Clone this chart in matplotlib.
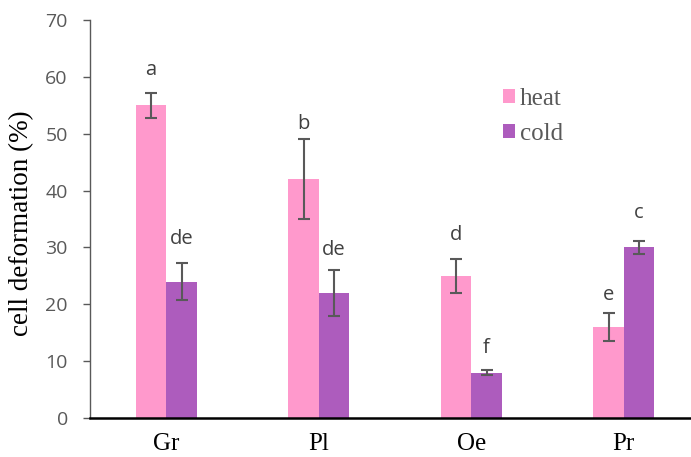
import matplotlib
matplotlib.use("Agg")
import matplotlib.pyplot as plt
import numpy as np

categories = ["Gr", "Pl", "Oe", "Pr"]
heat = [55, 42, 25, 16]
heat_err = [2.2, 7.0, 3.0, 2.5]
cold = [24, 22, 8, 30]
cold_err = [3.3, 4.0, 0.5, 1.2]
heat_letters = ["a", "b", "d", "e"]
cold_letters = ["de", "de", "f", "c"]
heat_letter_y = [60.3, 50.8, 31.3, 20.75]
cold_letter_y = [30.6, 28.7, 11.4, 35.2]
yticks = [0, 10, 20, 30, 40, 50, 60, 70]

W, H = 691, 457
fig = plt.figure(figsize=(W / 100, H / 100), dpi=100)
ax = fig.add_axes([90 / W, 39 / H, 610 / W, 398 / H])

x = np.arange(len(categories))
bw = 0.2
pink = "#FF99CC"
purple = "#AD5CBD"
errc = "#595959"

ax.bar(x - bw / 2, heat, bw, color=pink, label="heat", zorder=2)
ax.bar(x + bw / 2, cold, bw, color=purple, label="cold", zorder=2)
ax.errorbar(x - bw / 2, heat, yerr=heat_err, fmt="none", ecolor=errc,
            elinewidth=1.5, capsize=4.5, capthick=1.5, zorder=3)
ax.errorbar(x + bw / 2, cold, yerr=cold_err, fmt="none", ecolor=errc,
            elinewidth=1.5, capsize=4.5, capthick=1.5, zorder=3)

lab_font = dict(family=["Open Sans", "DejaVu Sans"], fontsize=14.5, color="#404040")
for i in range(len(categories)):
    ax.text(x[i] - bw / 2, heat_letter_y[i], heat_letters[i], ha="center", va="baseline", **lab_font)
    ax.text(x[i] + bw / 2, cold_letter_y[i], cold_letters[i], ha="center", va="baseline", **lab_font)

ax.set_xlim(-0.5, 3.5)
ax.set_ylim(0, 70)
ax.set_yticks(yticks)
ax.set_yticklabels([str(v) for v in yticks], family=["Open Sans", "DejaVu Sans"],
                   fontsize=14, color="#595959")
ax.set_xticks(x)
ax.set_xticklabels(categories, family=["Liberation Serif"], fontsize=18, color="black")
ax.tick_params(axis="x", length=0, pad=11)
ax.tick_params(axis="y", length=5, width=1, color="#595959", pad=11, direction="out")

for s in ["top", "right"]:
    ax.spines[s].set_visible(False)
ax.spines["left"].set_color("#595959")
ax.spines["left"].set_linewidth(1.0)
ax.spines["bottom"].set_color("black")
ax.spines["bottom"].set_linewidth(1.8)
ax.spines["bottom"].set_zorder(4)

ax.set_ylabel("cell deformation (%)", family=["Liberation Serif"], fontsize=19.5,
              color="black")
ax.yaxis.set_label_coords(-0.092, 0.489)

leg = ax.legend(loc="upper left", bbox_to_anchor=(503 / W, 1 - 88 / H),
                bbox_transform=fig.transFigure, frameon=False,
                prop={"family": "Liberation Serif", "size": 18},
                handlelength=0.48, handleheight=0.48, handletextpad=0.2,
                labelspacing=0.52, borderpad=0, borderaxespad=0)
for t in leg.get_texts():
    t.set_color("#595959")

fig.savefig("out.png", dpi=100)
